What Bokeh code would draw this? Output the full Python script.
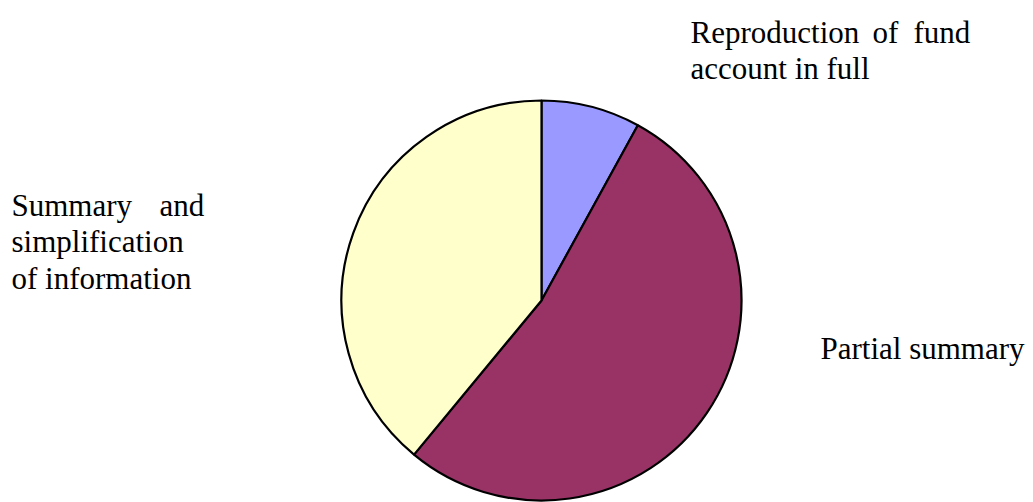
import math
from bokeh.plotting import figure
from bokeh.models import Range1d, ColumnDataSource
from bokeh.core.properties import value
from bokeh.embed import file_html
from bokeh.resources import INLINE

categories = ["Reproduction of fund account in full", "Partial summary",
              "Summary and simplification of information"]
shares = [8, 53, 39]
colors = ["#9999FF", "#993366", "#FFFFCC"]

# label words / lines (justified lines are split into words)
label_text = ["Reproduction", "of", "fund", "account in full",
              "Summary", "and", "simplification", "of information",
              "Partial summary"]

W, H = 1033, 502
label_x = [690, 872, 913, 690, 11, 159, 11, 11, 820]
label_top = [32, 32, 32, 68, 205, 205, 241, 278, 348]

p = figure(width=W, height=H, output_backend="svg", toolbar_location=None,
           x_range=Range1d(0, W), y_range=Range1d(0, H), min_border=0)
p.axis.visible = False
p.grid.visible = False

total = float(sum(shares))
cum = [0.0]
for s in shares:
    cum.append(cum[-1] + s / total)
a_from = [math.pi / 2 - cum[i + 1] * 2 * math.pi for i in range(len(shares))]
a_to = [math.pi / 2 - cum[i] * 2 * math.pi for i in range(len(shares))]

p.wedge(x=[541] * len(shares), y=[H - 300] * len(shares), radius=200,
        start_angle=a_from, end_angle=a_to, fill_color=colors,
        line_color="black", line_width=2.2)

lab = ColumnDataSource(dict(x=label_x, y=[H - t for t in label_top], text=label_text))
p.text(x="x", y="y", text="text", source=lab, text_font=value("Liberation Serif"),
       text_font_size="31px", text_baseline="alphabetic")
p.outline_line_color = None

open("out.html", "w").write(file_html(p, INLINE))
